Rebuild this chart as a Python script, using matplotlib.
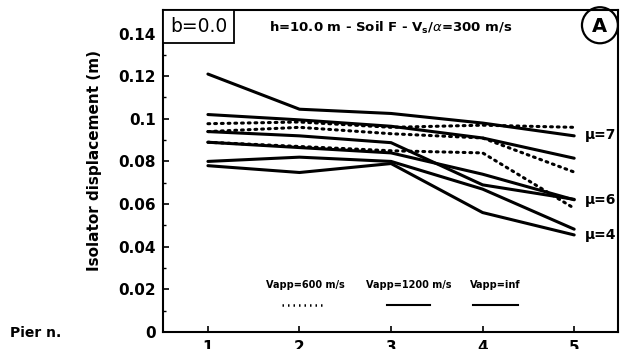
import matplotlib
matplotlib.use("Agg")
import matplotlib.pyplot as plt
from matplotlib.patches import Ellipse, Rectangle

# pier index along the bridge
piers = [1, 2, 3, 4, 5]

# isolator displacement (m)
vapp600 = [
    [0.0977, 0.0985, 0.0960, 0.0970, 0.0960],
    [0.0940, 0.0960, 0.0930, 0.0910, 0.0750],
    [0.0890, 0.0870, 0.0850, 0.0840, 0.0580],
]
solid = [
    [0.1210, 0.1045, 0.1025, 0.0980, 0.0920],
    [0.1020, 0.0995, 0.0965, 0.0910, 0.0815],
    [0.0940, 0.0920, 0.0888, 0.0690, 0.0622],
    [0.0890, 0.0865, 0.0840, 0.0740, 0.0620],
    [0.0800, 0.0820, 0.0800, 0.0670, 0.0482],
    [0.0780, 0.0748, 0.0790, 0.0560, 0.0455],
]
mu_labels = ["\u03bc=7", "\u03bc=6", "\u03bc=4"]
mu_y = [0.0925, 0.0620, 0.0455]
yticks = [0, 0.02, 0.04, 0.06, 0.08, 0.1, 0.12, 0.14]
yticklabels = ["0", "0.02", "0.04", "0.06", "0.08", "0.1", "0.12", "0.14"]
legend_labels = ["Vapp=600 m/s", "Vapp=1200 m/s", "Vapp=inf"]

plt.rcParams["font.family"] = ["DejaVu Sans"]

fig = plt.figure(figsize=(6.2, 3.49), dpi=100)
ax = fig.add_axes([0.263, 0.049, 0.734, 0.922])

for s in solid:
    ax.plot(piers, s, color="black", lw=2.2, solid_capstyle="round", solid_joinstyle="round")
for s in vapp600:
    ax.plot(piers, s, color="black", lw=2.2, linestyle=(0, (0.6, 1.6)),
            dash_capstyle="round")

for lab, yv in zip(mu_labels, mu_y):
    ax.text(5.12, yv, lab, fontsize=10, fontweight="bold", va="center", ha="left")

ax.set_xlim(0.51, 5.48)
ax.set_ylim(0, 0.151)
ax.set_xticks(piers)
ax.set_xticklabels([str(p) for p in piers], fontsize=11, fontweight="bold")
ax.set_yticks(yticks)
ax.set_yticklabels(yticklabels, fontsize=11, fontweight="bold")
ax.set_yticks([0.01, 0.03, 0.05, 0.07, 0.09, 0.11, 0.13], minor=True)
ax.tick_params(axis="both", direction="in", length=4, width=1.2, pad=5)
ax.tick_params(axis="y", which="minor", direction="in", length=2.5, width=1)
ax.tick_params(axis="x", pad=6)
for sp in ax.spines.values():
    sp.set_linewidth(1.5)

ax.set_ylabel("Isolator displacement (m)", fontsize=11, fontweight="bold")
ax.yaxis.set_label_coords(-0.134, 0.534)

# in-plot legend: labels above short line samples
leg_x = [2.06, 3.19, 4.14]
for lab, xv in zip(legend_labels, leg_x):
    ax.text(xv, 0.0218, lab, fontsize=7, fontweight="bold", ha="center", va="center")
ax.plot([1.81, 2.26], [0.0124, 0.0124], color="black", lw=1.8, linestyle=(0, (0.6, 1.6)))
ax.plot([2.96, 3.43], [0.0124, 0.0124], color="black", lw=1.5)
ax.plot([3.90, 4.39], [0.0124, 0.0124], color="black", lw=1.5)

ax.text(0.5, 0.945, r"h=10.0 m - Soil F - V$_\mathbf{s}$/$\alpha$=300 m/s",
        transform=ax.transAxes, fontsize=9.5, fontweight="bold", ha="center", va="center")

# "b=0.0" box flush with the top-left corner
ax.add_patch(Rectangle((0, 0.897), 0.156, 0.103, transform=ax.transAxes,
                       fc="white", ec="black", lw=1.3, zorder=3))
ax.text(0.078, 0.948, "b=0.0", transform=ax.transAxes, fontsize=13.5,
        ha="center", va="center", zorder=4)

# circled panel letter
ax.add_patch(Ellipse((0.960, 0.953), 0.079, 0.112, transform=ax.transAxes, fill=False,
                     ec="black", lw=1.6, clip_on=False))
ax.text(0.960, 0.950, "A", transform=ax.transAxes, fontsize=14, fontweight="bold",
        ha="center", va="center")

fig.text(0.016, 0.045, "Pier n.", fontsize=10, fontweight="bold", ha="left", va="center")

fig.savefig("out.png", dpi=100)
